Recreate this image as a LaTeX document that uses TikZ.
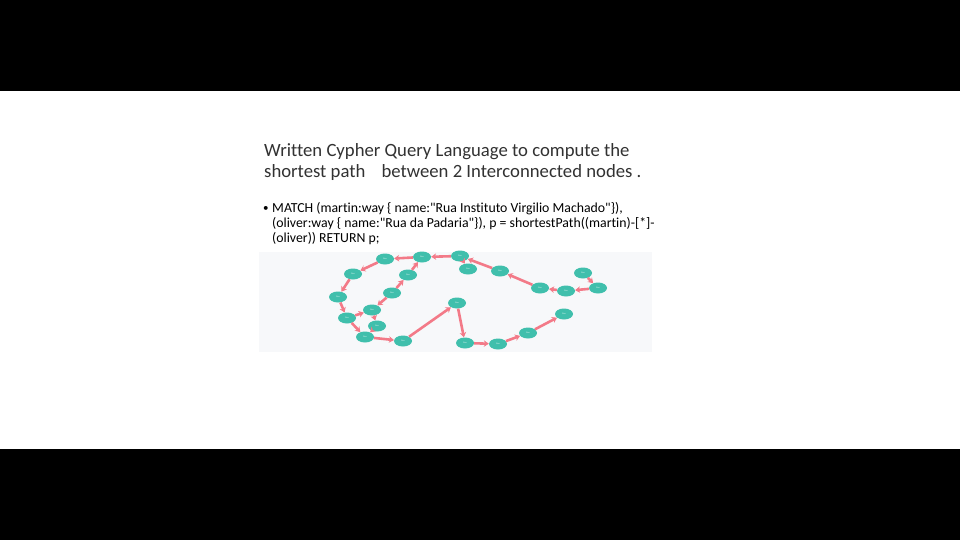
\documentclass[tikz,border=0pt]{standalone}
\usepackage{fontspec}
\setmainfont{Carlito}[Ligatures=NoCommon]
\usetikzlibrary{shapes.geometric,arrows.meta}
\definecolor{teal1}{RGB}{64,191,172}
\definecolor{edgered}{RGB}{243,122,136}
\definecolor{bggray}{RGB}{247,248,250}
\definecolor{titlegray}{RGB}{50,50,50}
\newcommand{\qd}{\textquotedbl}
\tikzset{
  gnode/.style={ellipse, fill=teal1, minimum width=18pt, minimum height=11pt, inner sep=0pt,
    font=\fontsize{2.2}{2.4}\selectfont, text=white!85!teal1},
  gedge/.style={draw=edgered, line width=2.6pt, -{Stealth[length=5pt,width=6.5pt]}},
  titletext/.style={anchor=base west, inner sep=0pt, font=\fontsize{18.7}{22}\selectfont, text=titlegray},
  bullettext/.style={anchor=base west, inner sep=0pt, font=\fontsize{13.8}{15}\selectfont, text=black}
}
\begin{document}
\begin{tikzpicture}[x=1pt,y=-1pt]
\useasboundingbox (0,0) rectangle (960,540);
\fill[white] (0,0) rectangle (960,540);
\fill[black] (0,0) rectangle (960,91);
\fill[black] (0,449) rectangle (960,540);
% title
\node[titletext] (t1) at (264,157) {Written Cypher Query Language to compute the};
\node[titletext] (t2) at (264,178) {shortest path\hspace{12pt} between 2 Interconnected nodes .};
% bullet
\node[bullettext, font=\fontsize{11}{14}\selectfont] (b0) at (263,211) {\textbullet};
\node[bullettext] (b1) at (272,212) {MATCH (martin:way \{ name:\qd Rua Instituto Virgilio Machado\qd\}),};
\node[bullettext] (b2) at (272,227) {(oliver:way \{ name:\qd Rua da Padaria\qd\}), p = shortestPath((martin)-[*]-};
\node[bullettext] (b3) at (272,242) {(oliver)) RETURN p;};
% graph background
\fill[bggray] (259,252) rectangle (652,352);
% nodes
\node[gnode] (n1) at (385,259) {Rua};
\node[gnode] (n2) at (422,257) {Rua};
\node[gnode] (n3) at (353,274) {Rua};
\node[gnode] (n4) at (408,275) {Rua};
\node[gnode] (n5) at (338,297) {Rua};
\node[gnode] (n6) at (392,293) {Rua};
\node[gnode] (n7) at (372,310) {Rua};
\node[gnode] (n8) at (347,318) {Rua};
\node[gnode] (n9) at (377,326) {Rua};
\node[gnode] (n10) at (365,337) {Rua};
\node[gnode] (n11) at (403,341) {Rua};
\node[gnode] (n12) at (457,303) {Rua};
\node[gnode] (n13) at (460,256) {Rua};
\node[gnode] (n14) at (468,269) {Rua};
\node[gnode] (n15) at (500,271) {Rua};
\node[gnode] (n16) at (540,288) {Rua};
\node[gnode] (n17) at (566,291) {Rua};
\node[gnode] (n18) at (583,273) {Rua};
\node[gnode] (n19) at (598,288) {Rua};
\node[gnode] (n20) at (465,343) {Rua};
\node[gnode] (n21) at (498,344) {Rua};
\node[gnode] (n22) at (528,333) {Rua};
\node[gnode] (n23) at (564,314) {Rua};
% edges
\draw[gedge] (n13) -- (n2);
\draw[gedge] (n2) -- (n1);
\draw[gedge] (n1) -- (n3);
\draw[gedge] (n3) -- (n5);
\draw[gedge] (n5) -- (n8);
\draw[gedge] (n8) -- (n10);
\draw[gedge] (n10) -- (n11);
\draw[gedge] (n11) -- (n12);
\draw[gedge] (n12) -- (n20);
\draw[gedge] (n20) -- (n21);
\draw[gedge] (n21) -- (n22);
\draw[gedge] (n22) -- (n23);
\draw[gedge] (n4) -- (n2);
\draw[gedge] (n6) -- (n4);
\draw[gedge] (n6) -- (n7);
\draw[gedge] (n7) -- (n9);
\draw[gedge] (n8) -- (n7);
\draw[gedge] (n9) -- (n10);
\draw[gedge] (n13) -- (n14);
\draw[gedge] (n15) -- (n13);
\draw[gedge] (n16) -- (n15);
\draw[gedge] (n17) -- (n16);
\draw[gedge] (n19) -- (n17);
\draw[gedge] (n18) -- (n19);
\end{tikzpicture}
\end{document}
